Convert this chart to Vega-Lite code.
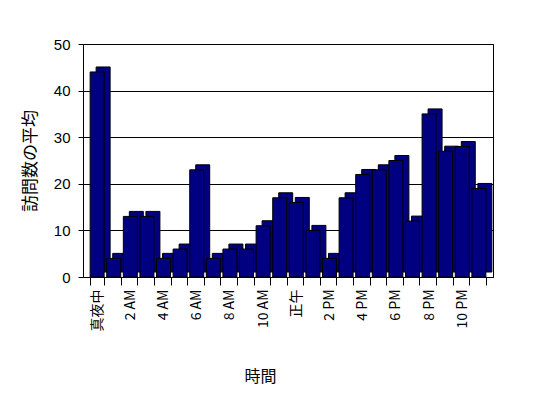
{
  "$schema": "https://vega.github.io/schema/vega-lite/v6.json",
  "width": 410,
  "height": 233,
  "autosize": "none",
  "padding": {"left": 83, "top": 44, "right": 55, "bottom": 121},
  "background": "white",
  "config": {
    "view": {"stroke": "black", "strokeWidth": 1},
    "font": "Noto Sans CJK JP"
  },
  "data": {
    "values": [
      {"hour": 0, "visits": 44},
      {"hour": 1, "visits": 4},
      {"hour": 2, "visits": 13},
      {"hour": 3, "visits": 13},
      {"hour": 4, "visits": 4},
      {"hour": 5, "visits": 6},
      {"hour": 6, "visits": 23},
      {"hour": 7, "visits": 4},
      {"hour": 8, "visits": 6},
      {"hour": 9, "visits": 6},
      {"hour": 10, "visits": 11},
      {"hour": 11, "visits": 17},
      {"hour": 12, "visits": 16},
      {"hour": 13, "visits": 10},
      {"hour": 14, "visits": 4},
      {"hour": 15, "visits": 17},
      {"hour": 16, "visits": 22},
      {"hour": 17, "visits": 23},
      {"hour": 18, "visits": 25},
      {"hour": 19, "visits": 12},
      {"hour": 20, "visits": 35},
      {"hour": 21, "visits": 27},
      {"hour": 22, "visits": 28},
      {"hour": 23, "visits": 19}
    ]
  },
  "encoding": {
    "x": {
      "field": "hour",
      "type": "ordinal",
      "scale": {"paddingInner": 0.157, "paddingOuter": 0.43},
      "axis": {
        "title": "時間",
        "titleFont": "Noto Sans CJK JP",
        "titleFontSize": 16,
        "titleFontWeight": "normal",
        "titleColor": "black",
        "titlePadding": 38,
        "titleX": 177,
        "labelAngle": -90,
        "labelFont": "Noto Sans CJK JP",
        "labelFontSize": 14,
        "labelColor": "black",
        "labelPadding": 4,
        "labelExpr": "!isValid(datum.value) || datum.value % 2 == 1 ? '' : (datum.value == 0 ? '真夜中' : (datum.value == 12 ? '正午' : ((datum.value % 12) + (datum.value < 12 ? ' AM' : ' PM'))))",
        "tickBand": "extent",
        "tickSize": 8,
        "tickColor": "black",
        "domainColor": "black"
      }
    },
    "y": {
      "field": "visits",
      "type": "quantitative",
      "scale": {"domain": [0, 50]},
      "axis": {
        "title": "訪問数の平均",
        "titleFont": "Noto Sans CJK JP",
        "titleFontSize": 17,
        "titleFontWeight": "normal",
        "titleColor": "black",
        "titlePadding": 14,
        "values": [0, 10, 20, 30, 40, 50],
        "labelFont": "Liberation Sans",
        "labelFontSize": 15,
        "labelColor": "black",
        "labelPadding": 8,
        "tickSize": 5,
        "tickColor": "black",
        "domainColor": "black",
        "grid": true,
        "gridColor": "black",
        "gridOpacity": 1
      }
    }
  },
  "layer": [
    {
      "mark": {"type": "bar", "color": "#000080", "stroke": "black", "strokeWidth": 1, "xOffset": 6, "x2Offset": 6, "yOffset": -5, "y2Offset": -5}
    },
    {
      "mark": {"type": "bar", "color": "#000080", "stroke": "black", "strokeWidth": 1}
    }
  ]
}
